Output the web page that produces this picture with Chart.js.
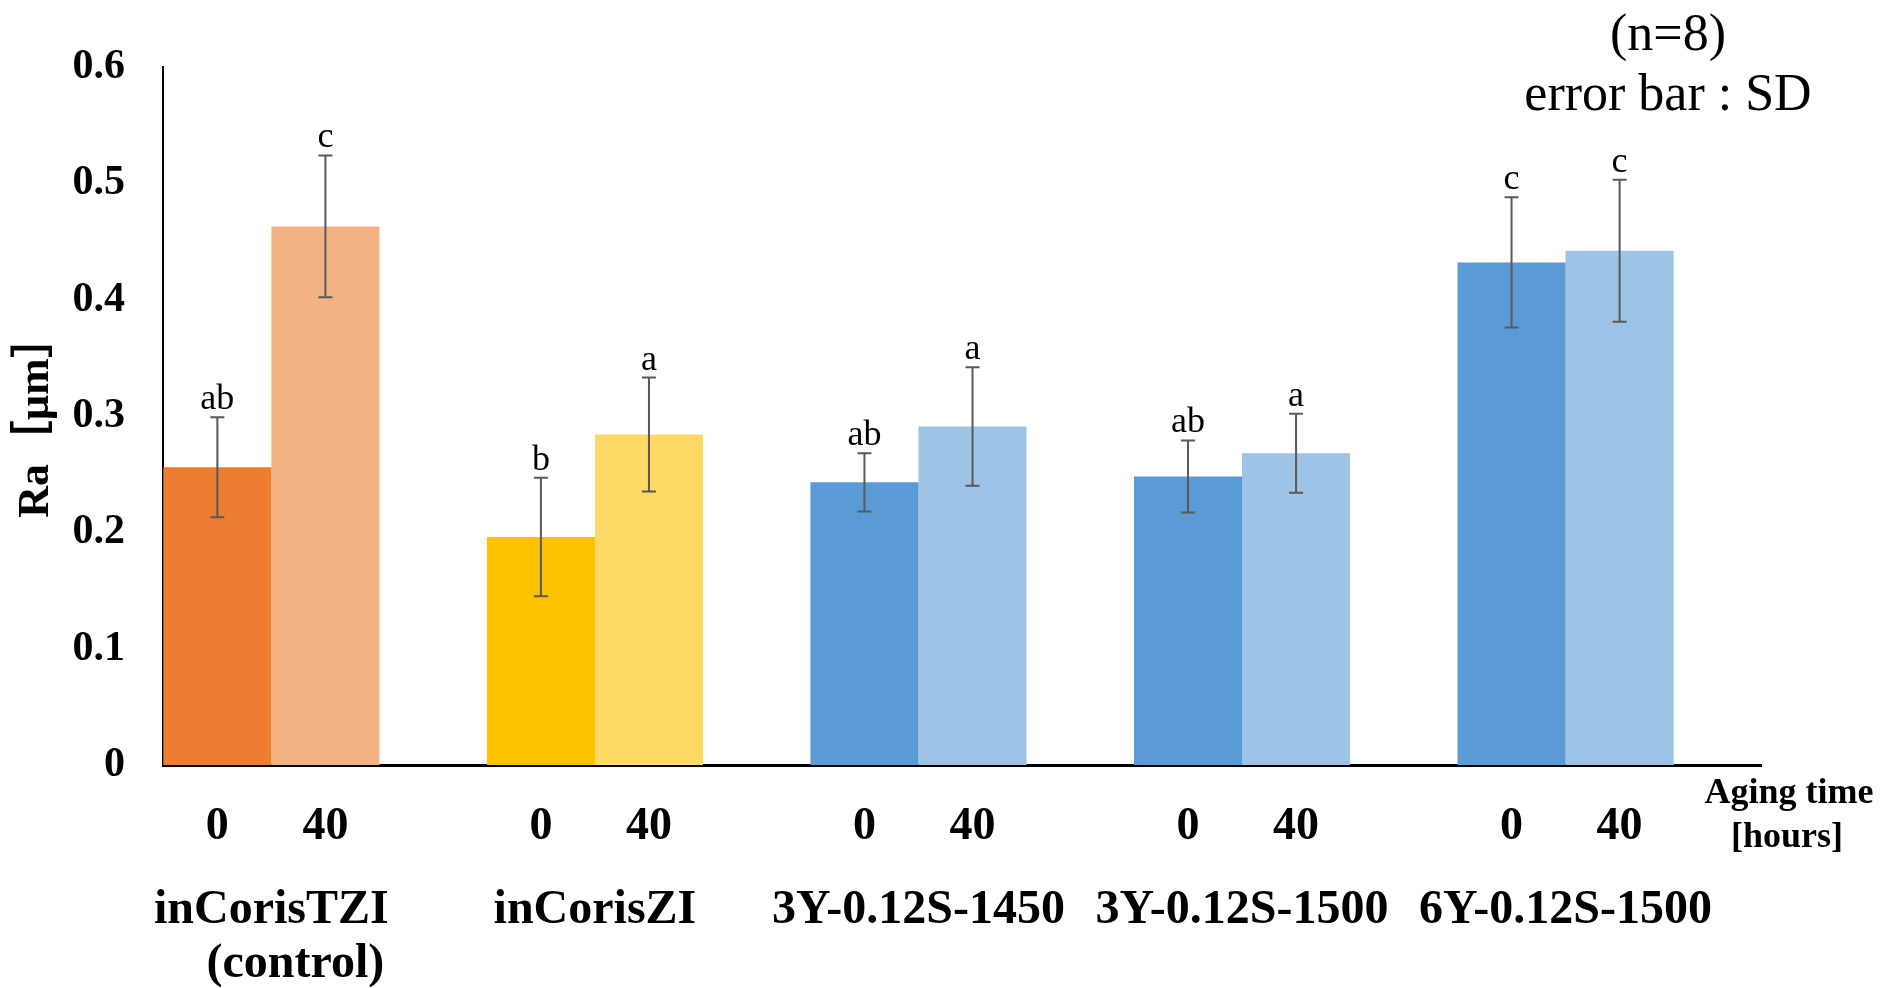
<!DOCTYPE html>
<html><head><meta charset="utf-8">
<script src="https://cdn.jsdelivr.net/npm/chart.js@4"></script>
<style>html,body{margin:0;padding:0;background:#fff;}</style>
</head><body>
<canvas id="c" width="1884" height="988"></canvas>
<script>
// ---- data ----
const groups = [['inCorisTZI', '\u2002\u2002(control)'], 'inCorisZI', '3Y-0.12S-1450', '3Y-0.12S-1500', '6Y-0.12S-1500'];
const timeLabels = ['0', '40'];
const ra0  = [0.256, 0.196, 0.243, 0.248, 0.432];
const sd0  = [0.043, 0.051, 0.025, 0.031, 0.056];
const ra40 = [0.463, 0.284, 0.291, 0.268, 0.442];
const sd40 = [0.061, 0.049, 0.051, 0.034, 0.061];
const letters0  = ['ab', 'b', 'ab', 'ab', 'c'];
const letters40 = ['c', 'a', 'a', 'a', 'c'];
const yTicks = [0, 0.1, 0.2, 0.3, 0.4, 0.5, 0.6];

// ---- styles ----
const colors0  = ['#ED7D31', '#FFC000', '#5B9BD5', '#5B9BD5', '#5B9BD5'];
const colors40 = ['#F4B183', '#FFD966', '#9DC3E6', '#9DC3E6', '#9DC3E6'];
const SERIF = "'Liberation Serif', 'Noto Sans CJK JP', serif";
const CAT_PCT = 0.668;
const X_MIN = -0.335, X_MAX = 4.604;

Chart.defaults.font.family = SERIF;
Chart.defaults.color = '#000';

const errPlugin = {
  id: 'errbars',
  afterDatasetsDraw(chart) {
    const ctx = chart.ctx, ys = chart.scales.y;
    chart.data.datasets.forEach((ds, di) => {
      const meta = chart.getDatasetMeta(di);
      meta.data.forEach((bar, i) => {
        const v = ds.data[i].y, s = ds.sd[i];
        const x = bar.x;
        const yt = ys.getPixelForValue(v + s), yb = ys.getPixelForValue(v - s);
        ctx.save();
        ctx.strokeStyle = '#595959';
        ctx.lineWidth = 2;
        ctx.beginPath();
        ctx.moveTo(x, yt); ctx.lineTo(x, yb);
        ctx.moveTo(x - 7, yt); ctx.lineTo(x + 7, yt);
        ctx.moveTo(x - 7, yb); ctx.lineTo(x + 7, yb);
        ctx.stroke();
        ctx.fillStyle = '#000';
        ctx.font = '36px ' + SERIF;
        ctx.textAlign = 'center';
        ctx.textBaseline = 'alphabetic';
        ctx.fillText(ds.letters[i], x, yt - 8);
        ctx.restore();
      });
    });
  }
};

const notePlugin = {
  id: 'notes',
  afterDraw(chart) {
    const ctx = chart.ctx;
    ctx.save();
    ctx.fillStyle = '#000';
    ctx.textAlign = 'center';
    ctx.textBaseline = 'middle';
    ctx.font = '52px ' + SERIF;
    ctx.fillText('(n=8)', 1668, 36);
    ctx.fillText('error bar : SD', 1668, 96);
    ctx.font = 'bold 36px ' + SERIF;
    ctx.fillText('Aging time', 1789, 794);
    ctx.fillText('[hours]', 1787, 838);
    ctx.restore();
  }
};

new Chart(document.getElementById('c'), {
  type: 'bar',
  data: {
    datasets: [
      { label: '0', data: ra0.map((v, i) => ({ x: i, y: v })), sd: sd0, letters: letters0,
        backgroundColor: colors0, borderWidth: 0, xAxisID: 'x' },
      { label: '40', data: ra40.map((v, i) => ({ x: i, y: v })), sd: sd40, letters: letters40,
        backgroundColor: colors40, borderWidth: 0, xAxisID: 'x' }
    ]
  },
  options: {
    responsive: false,
    animation: false,
    devicePixelRatio: 1,
    categoryPercentage: CAT_PCT,
    barPercentage: 1.0,
    layout: { padding: { top: 67, right: 123, left: 0, bottom: 0 } },
    plugins: { legend: { display: false }, tooltip: { enabled: false } },
    scales: {
      y: {
        min: 0, max: 0.6,
        afterBuildTicks: s => { s.ticks = yTicks.map(v => ({ value: v })); },
        afterFit: s => { s.width = 163; },
        ticks: { callback: v => String(v), font: { size: 42, weight: 'bold' }, color: '#000', padding: 38 },
        grid: { display: false, drawTicks: false },
        border: { display: true, color: '#000', width: 2 },
        title: { display: true, text: 'Ra［μm］', font: { size: 44, weight: 'bold' }, color: '#000', padding: { top: 10, bottom: 0 } }
      },
      xt: {
        type: 'linear', position: 'bottom', weight: 0,
        min: X_MIN, max: X_MAX, bounds: 'data', offset: false,
        afterBuildTicks: s => {
          const t = [];
          groups.forEach((g, i) => { t.push({ value: i - CAT_PCT / 4 }); t.push({ value: i + CAT_PCT / 4 }); });
          s.ticks = t;
        },
        afterFit: s => { s.height = 90; },
        ticks: { autoSkip: false, maxRotation: 0, minRotation: 0, padding: 35,
                 callback: (v, idx) => timeLabels[idx % 2],
                 font: { size: 46, weight: 'bold' }, color: '#000' },
        grid: { display: false, drawTicks: false },
        border: { display: true, color: '#000', width: 3 }
      },
      x: {
        type: 'linear', position: 'bottom', weight: 1,
        min: X_MIN, max: X_MAX, bounds: 'data', offset: false,
        afterBuildTicks: s => { s.ticks = groups.map((g, i) => ({ value: i })); },
        afterFit: s => { s.height = 133; },
        ticks: { autoSkip: false, maxRotation: 0, minRotation: 0, padding: 29,
                 callback: (v, idx) => groups[idx],
                 font: { size: 48, weight: 'bold', lineHeight: 1.125 }, color: '#000' },
        grid: { display: false, drawTicks: false },
        border: { display: false }
      }
    }
  },
  plugins: [errPlugin, notePlugin]
});
</script>
</body></html>
